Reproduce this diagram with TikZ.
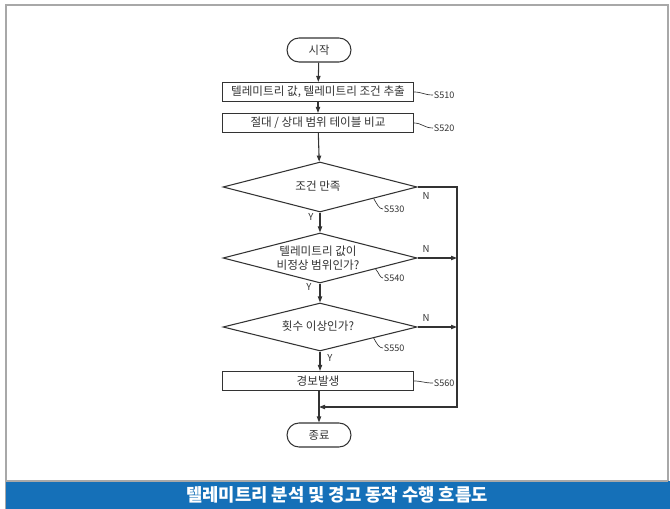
\documentclass[tikz,border=0pt]{standalone}
\usepackage{fontspec}
\setmainfont{Noto Sans CJK KR}
\usetikzlibrary{shapes.geometric,arrows.meta,calc}
\definecolor{capblue}{HTML}{1570B8}
\definecolor{framegrey}{HTML}{A8A8A8}
\definecolor{ink}{HTML}{333333}
\tikzset{
  flow/.style={draw=ink, line width=0.8pt},
  arr/.style={flow, -{Triangle[length=4.5pt,width=3.2pt]}},
  term/.style={flow, rounded corners=9pt, minimum width=48pt, minimum height=18pt, inner sep=0pt, font=\fontsize{8.5}{9}\selectfont, text=ink},
  stepbox/.style={flow, minimum width=143pt, minimum height=14.3pt, inner sep=0pt, font=\fontsize{8.7}{9}\selectfont, text=ink},
  decide/.style={flow, diamond, inner sep=0pt, minimum width=145.5pt, minimum height=37.5pt},
  dtext/.style={font=\fontsize{8.7}{11}\selectfont, text=ink, align=center},
  steplbl/.style={font=\fontsize{6.8}{8}\selectfont, text=ink, anchor=west, inner sep=0.5pt},
  yn/.style={font=\fontsize{7.2}{8}\selectfont, text=ink, inner sep=0pt},
  leader/.style={draw=ink, line width=0.5pt}
}
\begin{document}
\begin{tikzpicture}[x=0.75pt,y=-0.75pt]
\useasboundingbox (0,0) rectangle (670,509);
% frame and caption band
\draw[framegrey, line width=1.3pt] (6,509) -- (6,5) -- (668,5) -- (668,481);
\fill[capblue] (6,481) rectangle (670,509);
\draw[framegrey, line width=1.3pt] (6,481) -- (668,481);
\node[text=white, font=\fontsize{13.3}{14}\selectfont\bfseries] (cap) at (337,495) {텔레미트리 분석 및 경고 동작 수행 흐름도};

% nodes
\node[term] (start) at (319,50) {시작};
\node[stepbox] (b1) at (318,92) {텔레미트리 값,\ 텔레미트리 조건 추출};
\node[stepbox] (b2) at (318,123) {절대 / 상대 범위 테이블 비교};
\node[decide] (d1) at (320,187) {};
\node[dtext] (t1) at (318,186) {조건 만족};
\node[decide] (d2) at (320,258) {};
\node[dtext] (t2) at (318,258) {텔레미트리 값이\\비정상 범위인가?};
\node[decide, minimum height=36pt] (d3) at (320,327) {};
\node[dtext] (t3) at (318,326) {횟수 이상인가?};
\node[stepbox] (b3) at (318,381) {경보발생};
\node[term] (stop) at (319,435) {종료};

% main flow
\draw[arr] (start) -- (b1);
\draw[arr] (b1) -- (b2);
\draw[arr] (b2) -- (d1);
\draw[arr] (d1.south) -- (d2.north);
\draw[arr] (d2.south) -- (d3.north);
\draw[arr] (d3.south) -- (b3.north -| d3.south);
\draw[arr] (b3.south -| stop.north) -- (stop.north);

% loop back
\coordinate (r) at (457,407);
\coordinate (j) at (319,407);
\draw[arr] (d1.east) -| (r) -- (j);
\draw[arr] (d2.east) -- (d2.east -| r);
\draw[arr] (d3.east) -- (d3.east -| r);

% Y / N labels
\node[yn] (n1) at (426,196) {N};
\node[yn] (n2) at (426,249) {N};
\node[yn] (n3) at (426,318) {N};
\node[yn] (y1) at (311,217) {Y};
\node[yn] (y2) at (309,287) {Y};
\node[yn] (y3) at (330,358) {Y};

% step labels with leaders
\node[steplbl] (s510) at (433,95) {S510};
\draw[leader] (b1.east) .. controls (422,92) and (424,95) .. (s510.west);
\node[steplbl] (s520) at (433,128) {S520};
\draw[leader] (b2.east) .. controls (422,123) and (424,128) .. (s520.west);
\coordinate (e1) at ($(d1.east)!0.45!(d1.south)$);
\node[steplbl] (s530) at (383,209) {S530};
\draw[leader] (e1) .. controls (377,204) and (379,209) .. (s530.west);
\coordinate (e2) at ($(d2.east)!0.43!(d2.south)$);
\node[steplbl] (s540) at (383,278) {S540};
\draw[leader] (e2) .. controls (379,273) and (380,278) .. (s540.west);
\coordinate (e3) at ($(d3.east)!0.45!(d3.south)$);
\node[steplbl] (s550) at (383,348) {S550};
\draw[leader] (e3) .. controls (377,344) and (379,348) .. (s550.west);
\node[steplbl] (s560) at (433,383) {S560};
\draw[leader] (b3.east) .. controls (422,381) and (424,383) .. (s560.west);
\end{tikzpicture}
\end{document}
